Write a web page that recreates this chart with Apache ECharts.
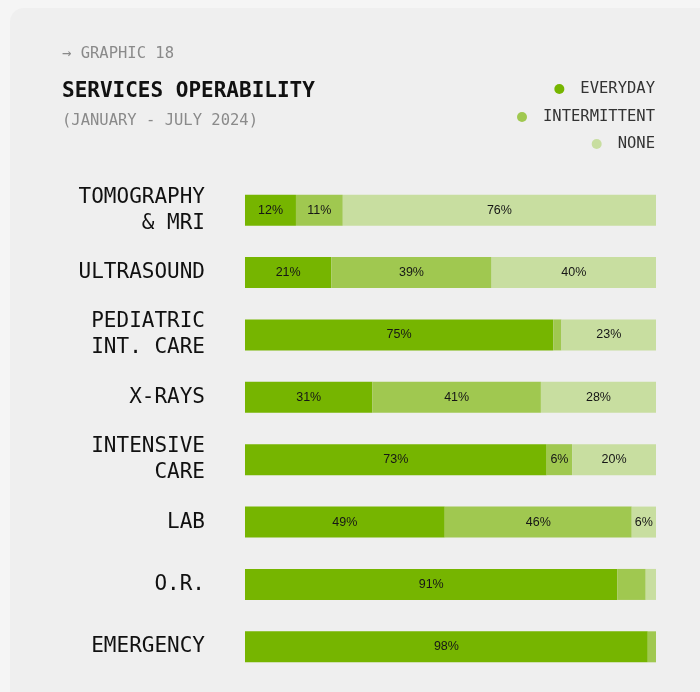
<!DOCTYPE html>
<html>
<head>
<meta charset="utf-8">
<script src="https://cdn.jsdelivr.net/npm/echarts@6/dist/echarts.min.js"></script>
<style>
  html, body { margin: 0; padding: 0; background: #f5f5f5; }
  #card { position: absolute; left: 10px; top: 8px; width: 720px; height: 720px; background: #efefef; border-radius: 14px; }
  #chart { position: absolute; left: 0; top: 0; width: 700px; height: 692px; }
</style>
</head>
<body>
<div id="card"></div>
<div id="chart"></div>
<script>
const categories = ['TOMOGRAPHY\n& MRI', 'ULTRASOUND', 'PEDIATRIC\nINT. CARE', 'X-RAYS', 'INTENSIVE\nCARE', 'LAB', 'O.R.', 'EMERGENCY'];
const everyday     = [12.4, 21, 75, 31, 73.4, 48.6, 90.6, 98];
const intermittent = [11.4, 39, 2, 41, 6.2, 45.5, 6.9, 2];
const none         = [76.2, 40, 23, 28, 20.4, 5.9, 2.5, 0];
// bars whose value label is not printed in the reference
const hiddenLabels = {
  EVERYDAY: [],
  INTERMITTENT: ['PEDIATRIC\nINT. CARE', 'O.R.', 'EMERGENCY'],
  NONE: ['O.R.', 'EMERGENCY']
};
const colors = { EVERYDAY: '#76b500', INTERMITTENT: '#a0c850', NONE: '#c8dea0' };

const mono = '"DejaVu Sans Mono", monospace';

function makeSeries(name, values) {
  return {
    name: name,
    type: 'bar',
    stack: 'total',
    barWidth: 31,
    itemStyle: { color: colors[name] },
    emphasis: { disabled: true },
    label: {
      show: true,
      position: 'inside',
      color: '#161616',
      fontFamily: '"Liberation Sans", Arial, sans-serif',
      fontSize: 12.5,
      formatter: function (p) {
        if (hiddenLabels[name].indexOf(p.name) >= 0 || !p.value) return '';
        return Math.round(p.value) + '%';
      }
    },
    data: values
  };
}

function legendFor(name, top) {
  return {
    data: [name],
    right: 40,
    top: top,
    orient: 'vertical',
    icon: 'circle',
    itemWidth: 10,
    itemHeight: 10,
    selectedMode: false,
    textStyle: { fontFamily: mono, fontSize: 15.5, color: '#333', padding: [0, 0, 0, 11] }
  };
}

const chart = echarts.init(document.getElementById('chart'), null, { renderer: 'canvas' });
chart.setOption({
  backgroundColor: 'transparent',
  animation: false,
  title: [
    { text: '→ GRAPHIC 18', left: 57, top: 41, textStyle: { fontFamily: mono, fontSize: 15.5, fontWeight: 'normal', color: '#8a8a8a' } },
    { text: 'SERVICES OPERABILITY', left: 57, top: 76, textStyle: { fontFamily: mono, fontSize: 21, fontWeight: 'bold', color: '#111' } },
    { text: '(JANUARY - JULY 2024)', left: 57, top: 108, textStyle: { fontFamily: mono, fontSize: 15.5, fontWeight: 'normal', color: '#8a8a8a' } }
  ],
  legend: [legendFor('EVERYDAY', 76), legendFor('INTERMITTENT', 104), legendFor('NONE', 131)],
  grid: { left: 245, right: 44, top: 179, bottom: 14, containLabel: false },
  xAxis: { type: 'value', min: 0, max: 100, show: false, splitLine: { show: false } },
  yAxis: {
    type: 'category',
    inverse: true,
    data: categories,
    axisLine: { show: false },
    axisTick: { show: false },
    axisLabel: {
      margin: 40,
      align: 'right',
      fontFamily: mono,
      fontSize: 21,
      lineHeight: 26,
      color: '#111',
      padding: [6, 0, 0, 0]
    }
  },
  series: [
    makeSeries('EVERYDAY', everyday),
    makeSeries('INTERMITTENT', intermittent),
    makeSeries('NONE', none)
  ]
});
</script>
</body>
</html>
